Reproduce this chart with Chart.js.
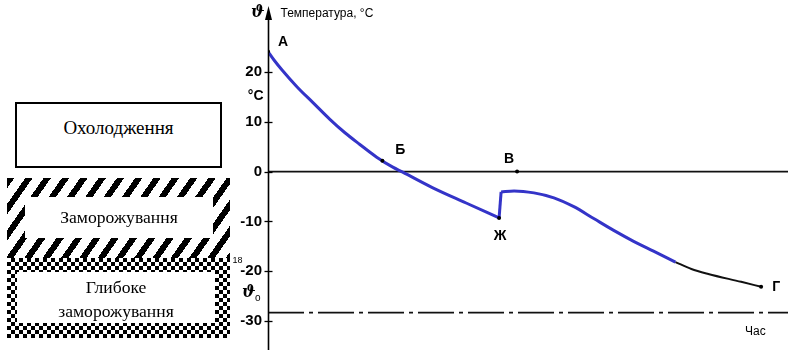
<!DOCTYPE html>
<html>
<head>
<meta charset="utf-8">
<script src="https://cdn.jsdelivr.net/npm/chart.js@4.4.1/dist/chart.umd.min.js"></script>
<style>
  html, body { margin: 0; padding: 0; background: #fff; }
  #wrap { position: relative; width: 792px; height: 350px; overflow: hidden; }
  #chart { position: absolute; left: 0; top: 0; }
  .box { position: absolute; box-sizing: border-box; color: #000; text-align: center;
         font-family: "Liberation Serif", "Times New Roman", serif; font-size: 17.6px; }
  .inner { position: absolute; background: #fff; }
  #cool { left: 15px; top: 102px; width: 207px; height: 66px; border: 2px solid #000;
          padding-top: 12px; line-height: 24px; background: #fff; font-size: 19px; }
  #freeze { left: 7px; top: 178px; width: 223px; height: 80px;
            background: repeating-linear-gradient(125deg, #000 0 6px, #fff 6px 15px); }
  #freeze .inner { left: 18px; top: 19px; width: 188px; height: 41px; line-height: 40px; }
  #deep { left: 7px; top: 258px; width: 223px; height: 80px;
          background: conic-gradient(#000 25%, #fff 0 50%, #000 0 75%, #fff 0) 0 0 / 8px 8px; }
  #deep .inner { left: 10px; top: 14px; width: 198px; height: 51px; padding-top: 4px;
                 box-sizing: border-box; line-height: 23.5px; }
</style>
</head>
<body>
<div id="wrap">
  <canvas id="chart" width="792" height="350"></canvas>
  <div class="box" id="cool">Охолодження</div>
  <div class="box" id="freeze"><div class="inner">Заморожування</div></div>
  <div class="box" id="deep"><div class="inner">Глибоке<br>заморожування</div></div>
</div>
<script>
// ------------------------------------------------------------
// Data (time in arbitrary units, °C)
// ------------------------------------------------------------
const timeMin = 0, timeMax = 100;
const tempMin = -35, tempMax = 33;
const tempTicks = [-30, -20, -10, 0, 10, 20];

// A -> Б -> Ж : cooling, then freezing of the product
const coolTime = [0, 1.15, 2.7, 5.6, 8.6, 11.9, 14.8, 17.6, 20.9, 24.0, 25.9, 31.6, 38.1, 44.44];
const coolTemp = [24.1, 22.4, 20.4, 17.0, 13.9, 10.5, 7.8, 5.5, 2.9, 0.9, -0.1, -3.2, -6.3, -9.29];

// Ж -> jump up (latent heat) -> traced part of the lower curve
const jumpTime = [44.44, 44.83];
const jumpTemp = [-9.29, -4.07];
const freezeTime = [44.83, 47.32, 51.15, 54.98, 58.81, 62.64, 66.48, 70.31, 74.14, 78.35];
const freezeTemp = [-4.07, -3.87, -4.27, -5.26, -7.04, -9.42, -11.8, -13.99, -15.97, -18.15];

// untraced black tail up to Г
const tailTime = [78.35, 81.42, 84.67, 90.99, 94.83];
const tailTemp = [-18.15, -19.54, -20.54, -22.12, -23.12];

// reference lines
const zeroTemp = 0;
const storeTemp = -28.3;

// marked points and their letters
const markLabels = ['А', 'Б', 'В', 'Ж', 'Г'];
const markTime = [0, 22.0, 47.9, 44.44, 94.83];
const markTemp = [24.1, 2.2, 0, -9.29, -23.12];
const markDx = [15, 18, -8, 1, 15];
const markDy = [-9, -11, -12, 18, 0];

const pts = (xs, ys) => xs.map((x, i) => ({ x, y: ys[i] }));
const BLUE = '#3434c8';
const SANS = '"Liberation Sans", Arial, sans-serif';

// ------------------------------------------------------------
// Decorations: arrow axis, cross ticks, letters and captions
// ------------------------------------------------------------
const decor = {
  id: 'decor',
  afterDatasetsDraw(chart) {
    const { ctx, scales: { x, y } } = chart;
    const ax = Math.round(x.getPixelForValue(timeMin)) + 0.5;
    ctx.save();
    ctx.strokeStyle = '#000';
    ctx.fillStyle = '#000';
    ctx.lineWidth = 1.6;
    ctx.beginPath();
    ctx.moveTo(ax, chart.height);
    ctx.lineTo(ax, 14);
    ctx.stroke();
    ctx.beginPath();
    ctx.moveTo(ax, 6);
    ctx.lineTo(ax - 3.5, 20);
    ctx.lineTo(ax + 3.5, 20);
    ctx.closePath();
    ctx.fill();

    ctx.lineWidth = 1.3;
    tempTicks.forEach(v => {
      const py = Math.round(y.getPixelForValue(v)) + 0.5;
      ctx.beginPath();
      ctx.moveTo(ax - 4, py);
      ctx.lineTo(ax + 4, py);
      ctx.stroke();
    });

    ctx.font = '600 14px ' + SANS;
    ctx.textAlign = 'center';
    ctx.textBaseline = 'middle';
    markLabels.forEach((t, i) => {
      ctx.fillText(t, x.getPixelForValue(markTime[i]) + markDx[i], y.getPixelForValue(markTemp[i]) + markDy[i]);
    });

    ctx.textAlign = 'left';
    ctx.font = '12px ' + SANS;
    ctx.fillText('Температура, °C', ax + 12, 14);
    ctx.fillText('Час', 745, 332);

    ctx.font = 'italic bold 16px "DejaVu Serif", serif';
    ctx.textAlign = 'right';
    ctx.fillText('ϑ', ax - 4, 13);
    ctx.fillText('ϑ', ax - 13, y.getPixelForValue(storeTemp) - 20);
    ctx.font = '10px ' + SANS;
    ctx.fillText('o', ax - 8, y.getPixelForValue(storeTemp) - 14);

    ctx.font = '600 14px ' + SANS;
    ctx.fillText('°C', ax - 5, y.getPixelForValue(15.2));
    ctx.font = '9px ' + SANS;
    ctx.fillText('18', ax - 26, y.getPixelForValue(-17.9));
    ctx.restore();
  }
};

new Chart(document.getElementById('chart'), {
  type: 'line',
  data: {
    datasets: [
      { data: pts(coolTime, coolTemp), borderColor: BLUE, borderWidth: 3, cubicInterpolationMode: 'monotone', order: 0 },
      { data: pts(jumpTime, jumpTemp), borderColor: BLUE, borderWidth: 3, tension: 0, order: 0 },
      { data: pts(freezeTime, freezeTemp), borderColor: BLUE, borderWidth: 3, cubicInterpolationMode: 'monotone', order: 0 },
      { data: pts(tailTime, tailTemp), borderColor: '#111', borderWidth: 2, cubicInterpolationMode: 'monotone', order: 1 },
      { data: pts([timeMin, timeMax], [zeroTemp, zeroTemp]), borderColor: '#111', borderWidth: 1.6, order: 2 },
      { data: pts([timeMin, timeMax], [storeTemp, storeTemp]), borderColor: '#111', borderWidth: 1.6,
        borderDash: [36, 5, 4, 5], order: 2 },
      { data: pts(markTime, markTemp), showLine: false, pointRadius: 2, pointBackgroundColor: '#000',
        pointBorderWidth: 0, order: -1 }
    ]
  },
  options: {
    responsive: false,
    animation: false,
    devicePixelRatio: 1,
    layout: { padding: { left: 208, right: 2, top: 7.2, bottom: 0.1 } },
    elements: { point: { radius: 0 } },
    plugins: { legend: { display: false }, tooltip: { enabled: false } },
    scales: {
      x: { type: 'linear', display: false, min: timeMin, max: timeMax },
      y: {
        type: 'linear', min: tempMin, max: tempMax,
        afterBuildTicks: s => { s.ticks = tempTicks.map(v => ({ value: v })); },
        afterFit: s => { s.width = 60; s.paddingTop = 0; s.paddingBottom = 0; },
        grid: { display: false, drawTicks: false },
        border: { display: false },
        ticks: { padding: 6, color: '#000', font: { family: SANS, size: 15, weight: '600' } }
      }
    }
  },
  plugins: [decor]
});
</script>
</body>
</html>
